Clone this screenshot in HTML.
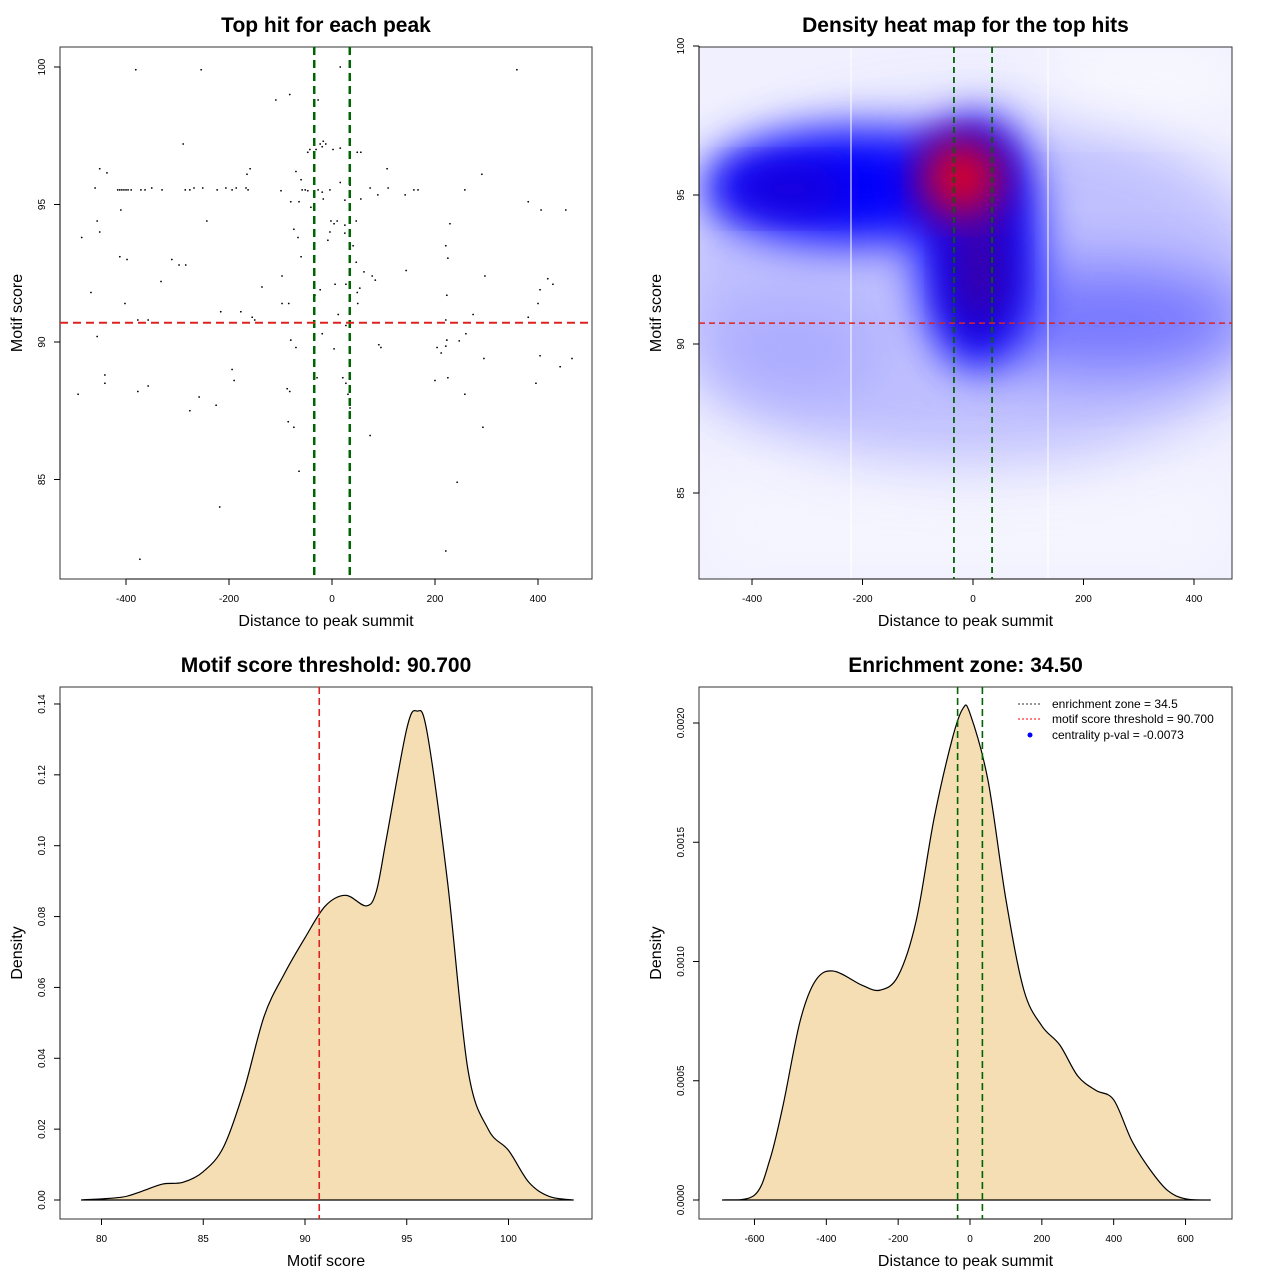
<!DOCTYPE html>
<html><head><meta charset="utf-8"><style>
html,body{margin:0;padding:0;background:#fff;}
svg{display:block;font-family:"Liberation Sans",sans-serif;}
</style></head><body>
<svg id="fig" width="1280" height="1280" viewBox="0 0 1280 1280" xmlns="http://www.w3.org/2000/svg">
<defs>
<filter id="blur" x="-50%" y="-50%" width="200%" height="200%"><feGaussianBlur stdDeviation="22"/></filter>
<filter id="blur2" x="-50%" y="-50%" width="200%" height="200%"><feGaussianBlur stdDeviation="30"/></filter>
<clipPath id="clip2"><rect x="699" y="47" width="533" height="532"/></clipPath>
</defs>
</svg>
<script>
// ---- data ----
const peakPoints = [[-381,99.9],[-254,99.9],[16,100],[359,99.9],[-109,98.8],[-82,99],[-27,98.8],[-289,97.2],[-23,97.2],[-17,97.3],[-12,97.2],[-19,97.1],[-43,97],[-47,96.9],[2,97],[-31,97],[16,97.05],[49,96.9],[56,96.9],[-451,96.3],[-437,96.15],[-159,96.3],[-165,96.1],[107,96.3],[291,96.1],[-70,96.2],[-60,95.9],[16,95.8],[35,95.7],
[-416,95.53],[-412,95.53],[-408,95.53],[-404,95.53],[-400,95.53],[-396,95.53],[-390,95.53],[-371,95.53],[-363,95.53],[-350,95.6],[-330,95.53],[-285,95.53],[-276,95.53],[-268,95.6],[-251,95.6],[-223,95.53],[-206,95.6],[-194,95.53],[-186,95.6],[-167,95.6],[-163,95.53],[-99,95.5],[-58,95.53],[-52,95.53],[-47,95.5],[-27,95.53],[-19,95.45],[-4,95.53],[74,95.6],[109,95.6],[159,95.53],[167,95.53],[258,95.53],[-460,95.6],
[-410,94.8],[-80,95.1],[-64,95.1],[-41,94.9],[-17,95.2],[25,95.16],[56,95.2],[89,95.35],[142,95.35],[381,95.1],[406,94.8],[454,94.8],
[-456,94.4],[-451,94],[-486,93.8],[-243,94.4],[-2,94.4],[4,94.3],[10,94.4],[25,94.25],[47,94.4],[229,94.3],
[-74,94.1],[-66,93.8],[-4,94],[-8,93.7],[25,93.96],[41,93.5],
[-412,93.1],[-398,93],[-311,93],[-297,92.8],[-284,92.8],[-332,92.2],
[-97,92.4],[-60,93.1],[47,92.9],[62,92.55],[78,92.4],[84,92.25],[144,92.6],[225,93.05],[221,93.5],[297,92.4],
[-468,91.8],[-136,92],[-216,91.1],[-177,91.1],[-155,90.9],[-97,91.4],[-84,91.4],[-33,91.7],[-23,91.9],[6,92.1],[27,92.1],[49,91.8],[50,91.4],[54,91.96],[223,91.7],[400,91.4],[429,92.1],[419,92.3],[404,91.9],
[-402,91.4],[-377,90.8],[-357,90.8],[-150,90.8],[12,91],[27,90.6],[221,90.8],[274,91],[381,90.9],[388,90.7],
[-456,90.2],[-80,90.07],[-70,89.8],[-19,90.3],[4,89.75],[91,89.9],[95,89.8],[204,89.8],[212,89.6],[221,89.85],[223,90.07],[247,90.04],[260,90.3],[295,89.4],[404,89.5],[443,89.1],[466,89.4],
[-194,89],[-190,88.6],[-441,88.8],[-441,88.5],[-357,88.4],[-377,88.2],[-87,88.3],[-82,88.2],[-29,88.7],[21,88.7],[27,88.5],[200,88.6],[225,88.7],[396,88.5],
[-493,88.1],[-276,87.5],[-258,88],[-225,87.7],[31,88.1],[35,87.6],[258,88.1],[293,86.9],
[-85,87.1],[-74,86.9],[74,86.6],[-64,85.3],[243,84.9],[-218,84],[221,82.4],[-373,82.1]];
const enrichmentZone = 34.5;
const scoreThreshold = 90.7;
// heatmap blobs: [dist, score, rxDist, ryScore, color, opacity]
const heatBlobs = [
 [0,91.8,560,6.0,'#b8b8ff',0.85],
 [240,90.8,260,1.8,'#6a6aff',0.85],
 [-330,89.8,170,1.8,'#a4a4ff',0.7],
 [-220,95.3,270,1.9,'#0000ff',1],
 [10,93.4,110,4.2,'#0000ff',1],
 [-330,95.2,110,0.7,'#2000d0',1],
 [12,92.5,50,2.2,'#4000a0',1],
 [-20,95.5,90,1.6,'#6000a0',1],
 [-20,95.6,55,1.0,'#ff0000',1]];
const scoreGrid = [79,81,82,83,84,85,86,87,88,89,90,91,92,93,93.5,94,95,95.5,96,97,98,99,100,101,102,103.2];
const scoreDensity = [0,0.0008,0.0025,0.0045,0.005,0.008,0.015,0.031,0.052,0.064,0.074,0.083,0.086,0.083,0.087,0.102,0.133,0.138,0.132,0.09,0.037,0.020,0.014,0.005,0.001,0];
const distGrid = [-690,-600,-557,-520,-473,-430,-380,-300,-250,-200,-150,-100,-50,-20,0,50,100,150,200,250,300,350,400,450,500,550,600,670];
const distDensity = [0,0.00002,0.00017,0.0004,0.00075,0.00092,0.00096,0.0009,0.00088,0.00094,0.00117,0.0016,0.00193,0.00206,0.00204,0.00176,0.00126,0.00088,0.00073,0.00065,0.00052,0.00046,0.00042,0.00025,0.00013,0.00004,0.000005,0];
const p1XTicks=[-400,-200,0,200,400], p1YTicks=[85,90,95,100];
const p2XTicks=[-400,-200,0,200,400], p2YTicks=[85,90,95,100];
const p3XTicks=[80,85,90,95,100], p3YTicks=[0,0.02,0.04,0.06,0.08,0.10,0.12,0.14];
const p4XTicks=[-600,-400,-200,0,200,400,600], p4YTicks=[0,0.0005,0.001,0.0015,0.002];

const NS='http://www.w3.org/2000/svg';
const svg=document.getElementById('fig');
function mk(tag,attrs,parent){const e=document.createElementNS(NS,tag);for(const k in attrs)e.setAttribute(k,attrs[k]);(parent||svg).appendChild(e);return e;}
function txt(s,x,y,size,opts,parent){const e=mk('text',Object.assign({x:x,y:y,'font-size':size,'text-anchor':'middle',fill:'#000'},opts||{}),parent);e.textContent=s;return e;}

// scales
const X1=v=>332+0.515*v, Y1=v=>342-27.5*(v-90);
const X2=v=>973+0.5525*v, Y2=v=>344-29.8*(v-90);
const X3=v=>305+20.35*(v-90), Y3=v=>1200-3543*v;
const X4=v=>970+0.3592*v, Y4=v=>1200-238500*v;

function axes(box,xs,ys,X,Y,xfmt,yfmt,title,xlab,ylab,prefix){
  const [x0,y0,x1,y1]=box;
  const fr=mk('rect',{x:x0,y:y0,width:x1-x0,height:y1-y0,fill:'none',stroke:'#333','stroke-width':1});
  
  const xa=mk('g',{});
  mk('line',{x1:X(xs[0]),x2:X(xs[xs.length-1]),y1:y1,y2:y1,stroke:'#000'},xa);
  xs.forEach(t=>{mk('line',{x1:X(t),x2:X(t),y1:y1,y2:y1+6,stroke:'#000'},xa);const l=txt(xfmt(t),X(t),y1+23,10,{},xa);});
  const ya=mk('g',{});
  mk('line',{x1:x0,x2:x0,y1:Y(ys[0]),y2:Y(ys[ys.length-1]),stroke:'#000'},ya);
  ys.forEach(t=>{mk('line',{x1:x0-6,x2:x0,y1:Y(t),y2:Y(t),stroke:'#000'},ya);const l=txt(yfmt(t),x0-15,Y(t),10,{transform:`rotate(-90 ${x0-15} ${Y(t)})`},ya);});
  const t=txt(title,(x0+x1)/2,y0-15,21,{'font-weight':'bold'});
  const xl=txt(xlab,(x0+x1)/2,y1+47,16);
  const yc=(y0+y1)/2;const yl=txt(ylab,x0-38,yc,16,{transform:`rotate(-90 ${x0-38} ${yc})`});
}
function vline(x,y0,y1,color,dash,w,name){const l=mk('line',{x1:x,x2:x,y1:y0,y2:y1,stroke:color,'stroke-width':w,'stroke-dasharray':dash});}
function hline(y,x0,x1,color,dash,w,name){const l=mk('line',{x1:x0,x2:x1,y1:y,y2:y,stroke:color,'stroke-width':w,'stroke-dasharray':dash});}
function smooth(pts){let d=`M${pts[0][0]},${pts[0][1]}`;for(let i=0;i<pts.length-1;i++){const p0=pts[Math.max(0,i-1)],p1=pts[i],p2=pts[i+1],p3=pts[Math.min(pts.length-1,i+2)];const c1=[p1[0]+(p2[0]-p0[0])/6,p1[1]+(p2[1]-p0[1])/6],c2=[p2[0]-(p3[0]-p1[0])/6,p2[1]-(p3[1]-p1[1])/6];d+=`C${c1[0]},${c1[1]} ${c2[0]},${c2[1]} ${p2[0]},${p2[1]}`;}return d;}

// Panel 1
axes([60,47,592,579],p1XTicks,p1YTicks,X1,Y1,String,String,'Top hit for each peak','Distance to peak summit','Motif score','p1');
const pg=mk('g',{});
peakPoints.forEach(p=>{const c=mk('circle',{cx:X1(p[0]),cy:Y1(p[1]),r:0.9,fill:'#000'},pg);});
vline(X1(-enrichmentZone),47,579,'#006400','8,5',2.5,'p1-zone-left');
vline(X1(enrichmentZone),47,579,'#006400','8,5',2.5,'p1-zone-right');
hline(Y1(scoreThreshold),60,592,'#dd2222','8,5',2,'p1-threshold-line');

// Panel 2 heatmap
const hg=mk('g',{'clip-path':'url(#clip2)'});
mk('rect',{x:699,y:47,width:533,height:532,fill:'#f0f0ff'},hg);
heatBlobs.forEach((b,i)=>{const e=mk('ellipse',{cx:X2(b[0]),cy:Y2(b[1]),rx:b[2]*0.5525,ry:b[3]*29.8,fill:b[4],opacity:b[5],filter:i<3?'url(#blur2)':'url(#blur)'},hg);});
mk('rect',{x:699,y:470,width:533,height:110,fill:'#ffffff',opacity:0.35,filter:'url(#blur2)'},hg);
mk('rect',{x:1050,y:47,width:182,height:70,fill:'#ffffff',opacity:0.6,filter:'url(#blur2)'},hg);
vline(851,47,579,'#ffffff','none',1,'heat-seam-left');
vline(1048,47,579,'#ffffff','none',1,'heat-seam-right');
axes([699,47,1232,579],p2XTicks,p2YTicks,X2,Y2,String,String,'Density heat map for the top hits','Distance to peak summit','Motif score','p2');
vline(X2(-enrichmentZone),47,579,'#006400','6,4',1.8,'p2-zone-left');
vline(X2(enrichmentZone),47,579,'#006400','6,4',1.8,'p2-zone-right');
hline(Y2(scoreThreshold),699,1232,'#dd2222','6,4',1.5,'p2-threshold-line');

// Panel 3
axes([60,687,592,1219],p3XTicks,p3YTicks,X3,Y3,String,v=>v.toFixed(2),'Motif score threshold: 90.700','Motif score','Density','p3');
const d3=smooth(scoreGrid.map((v,i)=>[X3(v),Y3(scoreDensity[i])]));
const a3=mk('path',{d:d3+'Z',fill:'#f5deb3',stroke:'#000','stroke-width':1.2});
hline(Y3(0),X3(scoreGrid[0]),X3(scoreGrid[scoreGrid.length-1]),'#000','none',1,'p3-baseline');
vline(X3(scoreThreshold),687,1219,'#dd2222','7,4',1.6,'p3-threshold-line');

// Panel 4
axes([699,687,1232,1219],p4XTicks,p4YTicks,X4,Y4,String,v=>v.toFixed(4),'Enrichment zone: 34.50','Distance to peak summit','Density','p4');
const d4=smooth(distGrid.map((v,i)=>[X4(v),Y4(distDensity[i])]));
const a4=mk('path',{d:d4+'Z',fill:'#f5deb3',stroke:'#000','stroke-width':1.2});
hline(Y4(0),X4(distGrid[0]),X4(distGrid[distGrid.length-1]),'#000','none',1,'p4-baseline');
vline(X4(-enrichmentZone),687,1219,'#006400','7,4',1.6,'p4-zone-left');
vline(X4(enrichmentZone),687,1219,'#006400','7,4',1.6,'p4-zone-right');
// legend
const lg=mk('g',{});
const e1=mk('g',{},lg);
mk('line',{x1:1018,x2:1042,y1:704,y2:704,stroke:'#333','stroke-dasharray':'2,2'},e1);txt('enrichment zone = 34.5',1052,708,12,{'text-anchor':'start'},e1);
const e2=mk('g',{},lg);
mk('line',{x1:1018,x2:1042,y1:719,y2:719,stroke:'#ff0000','stroke-dasharray':'2,2'},e2);txt('motif score threshold = 90.700',1052,723,12,{'text-anchor':'start'},e2);
const e3=mk('g',{},lg);
mk('circle',{cx:1030,cy:735,r:2.5,fill:'#0000ff'},e3);txt('centrality p-val = -0.0073',1052,739,12,{'text-anchor':'start'},e3);
</script>
</body></html>
